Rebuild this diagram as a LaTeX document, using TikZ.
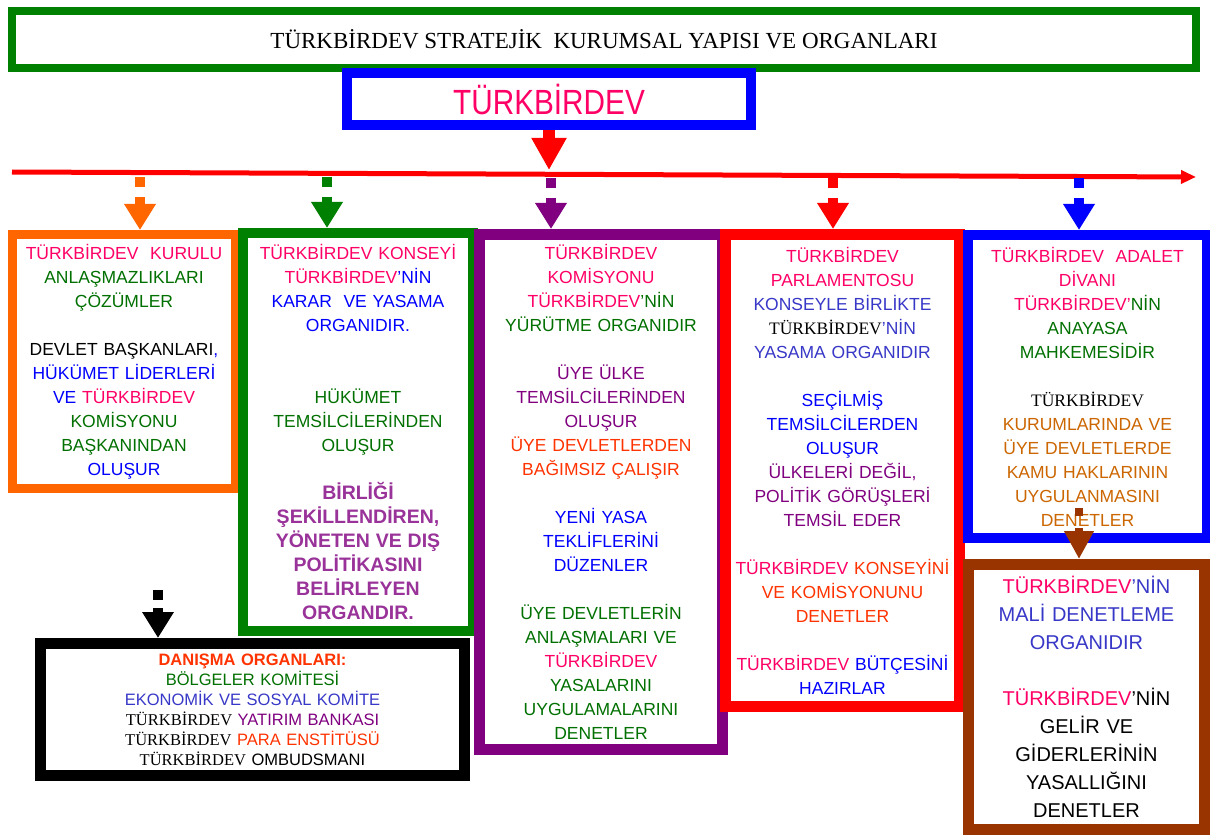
\documentclass[tikz,border=0pt]{standalone}
\usepackage{fontspec}
\setmainfont{Liberation Sans}
\newfontfamily\tbserif{Liberation Serif}
\newfontfamily\tbnarrow{Liberation Sans}[FakeStretch=0.85]
\usetikzlibrary{arrows.meta}

\definecolor{tpink}{HTML}{FF0066}
\definecolor{tgreen}{HTML}{007000}
\definecolor{tblue}{HTML}{0000FF}
\definecolor{tnavy}{HTML}{3838C8}
\definecolor{tpurple}{HTML}{800080}
\definecolor{tlilac}{HTML}{993399}
\definecolor{tored}{HTML}{FF3300}
\definecolor{tochre}{HTML}{CC6600}
\definecolor{forange}{HTML}{FF6600}
\definecolor{fgreen}{HTML}{008000}
\definecolor{fbrown}{HTML}{993300}

\newcommand{\cpk}[1]{\textcolor{tpink}{#1}}
\newcommand{\cgr}[1]{\textcolor{tgreen}{#1}}
\newcommand{\cbl}[1]{\textcolor{tblue}{#1}}
\newcommand{\cnv}[1]{\textcolor{tnavy}{#1}}
\newcommand{\cpu}[1]{\textcolor{tpurple}{#1}}
\newcommand{\cor}[1]{\textcolor{tored}{#1}}
\newcommand{\coc}[1]{\textcolor{tochre}{#1}}
\newcommand{\clil}[1]{{\bfseries\fontsize{19.5}{24}\selectfont\color{tlilac}#1}}

\begin{document}
\begin{tikzpicture}[x=1pt, y=-1pt,
        frame/.style={draw=#1, fill=white, inner sep=0pt, align=center},
        body/.style={font=\fontsize{17.5}{24}\selectfont},
        drop/.style={draw=#1, line width=10pt, dash pattern=on 10pt off 10pt,
            -{Triangle[width=30pt,length=26pt]}}
    ]
        \useasboundingbox (0,0) rectangle (1210,837);
        \fill[white] (0,0) rectangle (1210,837);

        % baslik ve ana kutu
        \node[frame=fgreen, line width=8pt, minimum width=1184pt, minimum height=57pt,
            font=\tbserif\fontsize{23}{28}\selectfont] (title) at (604,39.5)
            {TÜRKBİRDEV STRATEJİK~ KURUMSAL YAPISI VE ORGANLARI};
        \node[frame=blue, line width=10pt, minimum width=404pt, minimum height=52pt,
            font=\tbnarrow\fontsize{35}{40}\selectfont, text=tpink] (main) at (549,99) {TÜRKBİRDEV};

        % organlar
        \node[frame=forange, body, line width=9pt, minimum width=223pt, minimum height=254pt,
            text width=212pt] (kurul) at (124,361.5) {
            \cpk{TÜRKBİRDEV~ KURULU}\\
            \cgr{ANLAŞMAZLIKLARI}\\
            \cgr{ÇÖZÜMLER}\\[24pt]
            DEVLET BAŞKANLARI\cbl{,}\\
            \cbl{HÜKÜMET LİDERLERİ}\\
            \cbl{VE} \cpk{TÜRKBİRDEV}\\
            \cgr{KOMİSYONU}\\
            \cgr{BAŞKANINDAN}\\
            \cbl{OLUŞUR}};
        \node[frame=fgreen, body, line width=10pt, minimum width=230pt, minimum height=398pt,
            text width=220pt] (konsey) at (358,432) {
            \cpk{TÜRKBİRDEV KONSEYİ}\\
            \cpk{TÜRKBİRDEV}\cbl{’NİN}\\
            \cbl{KARAR~ VE YASAMA}\\
            \cbl{ORGANIDIR.}\\[48pt]
            \cgr{HÜKÜMET}\\
            \cgr{TEMSİLCİLERİNDEN}\\
            \cgr{OLUŞUR}\\[24pt]
            \clil{BİRLİĞİ}\\
            \clil{ŞEKİLLENDİREN,}\\
            \clil{YÖNETEN VE DIŞ}\\
            \clil{POLİTİKASINI}\\
            \clil{BELİRLEYEN}\\
            \clil{ORGANDIR.}};
        \node[frame=tpurple, body, line width=11pt, minimum width=243pt, minimum height=515pt,
            text width=232pt] (komisyon) at (601,492) {
            \cpk{TÜRKBİRDEV}\\
            \cpk{KOMİSYONU}\\
            \cpk{TÜRKBİRDEV}\cgr{’NİN}\\
            \cgr{YÜRÜTME ORGANIDIR}\\[24pt]
            \cpu{ÜYE ÜLKE}\\
            \cpu{TEMSİLCİLERİNDEN}\\
            \cpu{OLUŞUR}\\
            \cor{ÜYE DEVLETLERDEN}\\
            \cor{BAĞIMSIZ ÇALIŞIR}\\[24pt]
            \cbl{YENİ YASA}\\
            \cbl{TEKLİFLERİNİ}\\
            \cbl{DÜZENLER}\\[24pt]
            \cgr{ÜYE DEVLETLERİN}\\
            \cgr{ANLAŞMALARI VE}\\
            \cpk{TÜRKBİRDEV}\\
            \cgr{YASALARINI}\\
            \cgr{UYGULAMALARINI}\\
            \cgr{DENETLER}};
        \node[frame=red, body, line width=11pt, minimum width=234pt, minimum height=472pt,
            text width=224pt] (parlamento) at (842.5,470.5) {
            \cpk{TÜRKBİRDEV}\\
            \cpk{PARLAMENTOSU}\\
            \cnv{KONSEYLE BİRLİKTE}\\
            {\tbserif TÜRKBİRDEV}\cnv{’NİN}\\
            \cnv{YASAMA ORGANIDIR}\\[24pt]
            \cbl{SEÇİLMİŞ}\\
            \cbl{TEMSİLCİLERDEN}\\
            \cbl{OLUŞUR}\\
            \cpu{ÜLKELERİ DEĞİL,}\\
            \cpu{POLİTİK GÖRÜŞLERİ}\\
            \cpu{TEMSİL EDER}\\[24pt]
            \cpk{TÜRKBİRDEV} \cor{KONSEYİNİ}\\
            \cor{VE KOMİSYONUNU}\\
            \cor{DENETLER}\\[24pt]
            \cpk{TÜRKBİRDEV} \cbl{BÜTÇESİNİ}\\
            \cbl{HAZIRLAR}};
        \node[frame=blue, body, line width=10pt, minimum width=239pt, minimum height=303pt,
            text width=226pt] (adalet) at (1087.5,386.5) {
            \cpk{TÜRKBİRDEV~ ADALET}\\
            \cpk{DİVANI}\\
            \cpk{TÜRKBİRDEV’}\cgr{NİN}\\
            \cgr{ANAYASA}\\
            \cgr{MAHKEMESİDİR}\\[24pt]
            {\tbserif TÜRKBİRDEV}\\
            \coc{KURUMLARINDA VE}\\
            \coc{ÜYE DEVLETLERDE}\\
            \coc{KAMU HAKLARININ}\\
            \coc{UYGULANMASINI}\\
            \coc{DENETLER}};
        \node[frame=fbrown, line width=11pt, minimum width=236pt, minimum height=265pt,
            text width=226pt, font=\fontsize{20}{28}\selectfont] (sayistay) at (1086.5,697) {
            \cpk{TÜRKBİRDEV}\cnv{’NİN}\\
            \cnv{MALİ DENETLEME}\\
            \cnv{ORGANIDIR}\\[28pt]
            \cpk{TÜRKBİRDEV}’NİN\\
            GELİR VE\\
            GİDERLERİNİN\\
            YASALLIĞINI\\
            DENETLER};
        \node[frame=black, line width=11pt, minimum width=424pt, minimum height=132pt,
            text width=410pt, font=\fontsize{16.5}{20}\selectfont] (danisma) at (252.5,709.5) {
            {\bfseries\cor{DANIŞMA ORGANLARI:}}\\
            \cgr{BÖLGELER KOMİTESİ}\\
            \cnv{EKONOMİK VE SOSYAL KOMİTE}\\
            {\tbserif TÜRKBİRDEV} \cpu{YATIRIM BANKASI}\\
            {\tbserif TÜRKBİRDEV} \cor{PARA ENSTİTÜSÜ}\\
            {\tbserif TÜRKBİRDEV} OMBUDSMANI};

        % yatay cizgi ve oklar
        \coordinate (hl1) at (12,172);
        \coordinate (hl2) at (1196,177);
        \coordinate (mt) at (549,170);
        \draw[red, line width=5pt, -{Triangle[width=13pt,length=15pt]}] (hl1) -- (hl2);
        \draw[red, line width=12pt, -{Triangle[width=33pt,length=32pt]}] (main.south) -- (mt);

        \coordinate (d1) at (140,177);
        \coordinate (d2) at (327,177);
        \coordinate (d3) at (551,178);
        \coordinate (d4) at (833,178);
        \coordinate (d5) at (1079,178);
        \coordinate (d6) at (158,590);
        \coordinate (d7) at (1079,508);
        \draw[drop=forange] (d1) -- (d1 |- kurul.north);
        \draw[drop=fgreen] (d2) -- (d2 |- konsey.north);
        \draw[drop=tpurple] (d3) -- (d3 |- komisyon.north);
        \draw[drop=red] (d4) -- (d4 |- parlamento.north);
        \draw[drop=blue] (d5) -- (d5 |- adalet.north);
        \draw[drop=black, dash pattern=on 10pt off 8pt] (d6) -- (d6 |- danisma.north);
        \draw[drop=fbrown, line width=8pt, dash pattern=on 8pt off 12pt,
            -{Triangle[width=28pt,length=28pt]}] (d7) -- (d7 |- sayistay.north);
    \end{tikzpicture}
\end{document}
